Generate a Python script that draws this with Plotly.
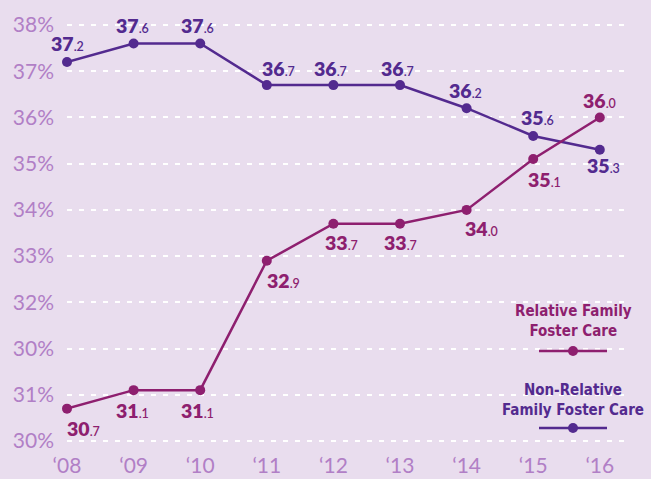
import plotly.graph_objects as go

# ---------------- data ----------------
years = [2008, 2009, 2010, 2011, 2012, 2013, 2014, 2015, 2016]
year_labels = ["\u201808", "\u201809", "\u201810", "\u201811", "\u201812",
               "\u201813", "\u201814", "\u201815", "\u201816"]
relative = [30.7, 31.1, 31.1, 32.9, 33.7, 33.7, 34.0, 35.1, 36.0]
non_relative = [37.2, 37.6, 37.6, 36.7, 36.7, 36.7, 36.2, 35.6, 35.3]
# tick labels exactly as printed on the chart (bottom to top)
y_tick_labels = ["30%", "31%", "30%", "32%", "33%", "34%", "35%", "36%", "37%", "38%"]
rel_name = "Relative Family<br>Foster Care"
nonrel_name = "Non-Relative<br>Family Foster Care"

# ---------------- style ----------------
BG = "#e9ddee"
PURPLE = "#532a8f"
MAGENTA = "#8e1f6f"
TICK = "#b17fc6"
W, H = 651, 479
L, R, T, B = 67, 20, 10, 24
PW, PH = W - L - R, H - T - B


def axis_pos(v):
    # the printed axis has an extra gridline between 31% and 32%;
    # values below 32 are measured against the lower labelled gridlines
    return v if v >= 32 else v - 1


tick_pos = list(range(29, 29 + len(y_tick_labels)))

# label offsets (pixels): positive dy = above the point
nr_dx = [0, -1, -3, 12, -3, -3, -1, 4, 4]
nr_dy = [18, 18, 18, 17, 17, 17, 18, 18, -16]
r_dx = [16, -1, -3, 17, 8, 0, 15, 11, 0]
r_dy = [-20, -20, -20, -20, -19, -19, -19, -20, 17]

fig = go.Figure()
for vals, col in [(non_relative, PURPLE), (relative, MAGENTA)]:
    fig.add_trace(go.Scatter(
        x=years, y=[axis_pos(v) for v in vals], mode="lines+markers",
        line=dict(color=col, width=2.5), marker=dict(color=col, size=10),
        cliponaxis=False, showlegend=False, hoverinfo="skip"))


def label_text(v):
    s = f"{v:.1f}"
    i, d = s.split(".")
    return f"{i}<span style='font-size:12.5px;font-weight:600'>.{d}</span>"


anns = []
for vals, col, dxs, dys in [(non_relative, PURPLE, nr_dx, nr_dy),
                            (relative, MAGENTA, r_dx, r_dy)]:
    for x, v, dx, dy in zip(years, vals, dxs, dys):
        anns.append(dict(x=x, y=axis_pos(v), xref="x", yref="y", text=label_text(v),
                         showarrow=False, xshift=dx, yshift=dy,
                         xanchor="center", yanchor="middle",
                         font=dict(family="Lato", size=19.5, color=col, weight=800)))


def px_x(px):
    return (px - L) / PW


def px_y(py):
    return (H - B - py) / PH


legend_items = [(rel_name, MAGENTA, 321, 351), (nonrel_name, PURPLE, 400, 428)]
shapes = []
for name, col, ty, ly in legend_items:
    anns.append(dict(x=px_x(573), y=px_y(ty), xref="paper", yref="paper", text=name,
                     showarrow=False, xanchor="center", yanchor="middle", align="center",
                     font=dict(family="Liberation Sans Narrow, DejaVu Sans Condensed",
                               size=15, color=col, weight=700)))
    shapes.append(dict(type="line", xref="paper", yref="paper",
                       x0=px_x(539), x1=px_x(607), y0=px_y(ly), y1=px_y(ly),
                       line=dict(color=col, width=2.5)))
    shapes.append(dict(type="circle", xref="paper", yref="paper", xsizemode="pixel",
                       ysizemode="pixel", xanchor=px_x(573), yanchor=px_y(ly),
                       x0=-5, x1=5, y0=-5, y1=5, fillcolor=col, line=dict(width=0)))

fig.update_layout(
    width=W, height=H, margin=dict(l=L, r=R, t=T, b=B),
    paper_bgcolor=BG, plot_bgcolor=BG,
    annotations=anns, shapes=shapes,
    xaxis=dict(range=[2008, 2008 + PW / 66.6], tickvals=years, ticktext=year_labels,
               showgrid=False, zeroline=False, showline=False, ticks="",
               automargin=False, ticklabelstandoff=-4,
               tickfont=dict(family="Lato", size=21, color=TICK)),
    yaxis=dict(range=[28.697, 38.3245], tickvals=tick_pos, ticktext=y_tick_labels,
               showgrid=True, gridcolor="white", gridwidth=1.5, griddash="5px,7px",
               zeroline=False, showline=False, ticks="", ticklabelstandoff=12,
               automargin=False,
               tickfont=dict(family="Lato", size=21, color=TICK)),
)

fig.write_html("out.html", config={"displayModeBar": False},
               post_script=f"document.body.style.margin='0';"
                           f"document.body.style.background='{BG}';")
